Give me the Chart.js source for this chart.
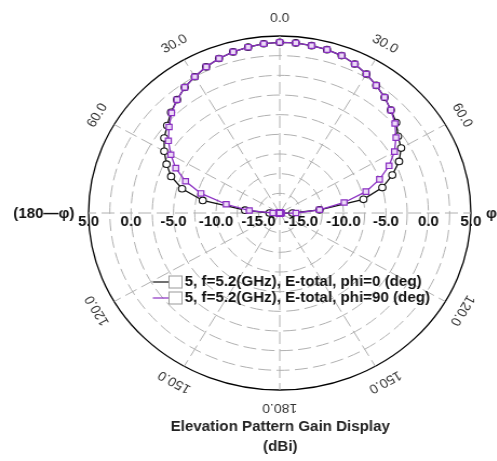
<!DOCTYPE html>
<html lang="en">
<head>
  <meta charset="UTF-8">
  <title>Elevation Pattern Gain Display</title>
  <style>
    html, body { margin: 0; padding: 0; background: #fff; overflow: hidden; }
    #wrap { width: 460px; height: 461px; transform: scaleX(1.08); transform-origin: 0 0; }
  </style>
</head>
<body>
  <div id="wrap"><canvas id="chart" width="460" height="461"></canvas></div>

  <script src="https://cdn.jsdelivr.net/npm/chart.js@4.4.0/dist/chart.umd.min.js"></script>
  <script>
    var FONT = '"Liberation Sans", Arial, sans-serif'

    // theta (deg), clockwise from the top of the plot
    var angles = [0, 5, 10, 15, 20, 25, 30, 35, 40, 45, 50, 55, 60, 65, 70, 75, 80, 85,
      90, 95, 100, 105, 110, 115, 120, 125, 130, 135, 140, 145, 150, 155, 160, 165, 170, 175,
      180, 185, 190, 195, 200, 205, 210, 215, 220, 225, 230, 235, 240, 245, 250, 255, 260, 265,
      270, 275, 280, 285, 290, 295, 300, 305, 310, 315, 320, 325, 330, 335, 340, 345, 350, 355]

    // gain in dBi, phi = 0 deg
    var gainPhi0 = [4.2, 4.2, 4.1, 4.0, 3.8, 3.4, 2.9, 2.3, 1.7, 1.0, 0.4, -0.5, -1.0, -2.0, -3.4, -5.0, -7.5, -12.8,
      -16.0, -17.4, -17.5, -17.5, -17.5, -17.5, -17.5, -17.5, -17.5, -17.5, -17.5, -17.5, -17.5, -17.5, -17.5, -17.5, -17.5, -17.5,
      -17.5, -17.5, -17.5, -17.5, -17.5, -17.5, -17.5, -17.5, -17.5, -17.5, -17.5, -17.5, -17.5, -17.5, -17.5, -17.5, -17.5, -17.5,
      -16.3, -13.4, -8.3, -5.6, -3.9, -2.8, -1.8, -0.9, -0.2, 0.6, 1.3, 2.0, 2.5, 3.0, 3.4, 3.7, 3.9, 4.1]

    // gain in dBi, phi = 90 deg
    var gainPhi90 = [4.2, 4.2, 4.1, 4.0, 3.8, 3.4, 2.9, 2.3, 1.7, 1.0, 0.2, -0.8, -1.9, -3.3, -5.0, -7.0, -9.8, -12.8,
      -15.6, -17.3, -17.5, -17.5, -17.5, -17.5, -17.5, -17.5, -17.5, -17.5, -17.5, -17.5, -17.5, -17.5, -17.5, -17.5, -17.5, -17.5,
      -17.5, -17.5, -17.5, -17.5, -17.5, -17.5, -17.5, -17.5, -17.5, -17.5, -17.5, -17.5, -17.5, -17.5, -17.5, -17.5, -17.5, -17.5,
      -16.7, -13.9, -11.1, -7.9, -5.7, -4.0, -2.7, -1.5, -0.5, 0.5, 1.3, 2.0, 2.5, 3.0, 3.4, 3.7, 3.9, 4.1]

    var seriesNames = ['5, f=5.2(GHz), E-total, phi=0 (deg)', '5, f=5.2(GHz), E-total, phi=90 (deg)']

    // labelled rings and angle labels
    var ringTicks = [5, 0, -5, -10, -15]
    var angleTicks = [0, 30, 60, 90, 120, 150, 180, 210, 240, 270, 300, 330]
    var angleLabels = ['0.0', '30.0', '60.0', '\u03c6', '120.0', '150.0', '180.0', '150.0', '120.0', '(180\u2014\u03c6)', '60.0', '30.0']

    var BLACK = '#111111'
    var PURPLE = '#8a2fc2'

    var polarText = {
      id: 'polarText',
      afterDraw: function (chart) {
        var r = chart.scales.r
        var ctx = chart.ctx
        var cx = r.xCenter, cy = r.yCenter
        ctx.save()
        ctx.textBaseline = 'middle'

        // ring values along the horizontal axis, both halves
        ctx.fillStyle = '#111'
        ctx.font = 'bold 14px ' + FONT
        ctx.textAlign = 'center'
        ringTicks.forEach(function (v) {
          var d = r.getDistanceFromCenterForValue(v)
          ctx.fillText(v.toFixed(1), cx + d, cy + 9)
          ctx.fillText(v.toFixed(1), cx - d, cy + 9)
        })

        // angle labels, turned along the circle
        angleTicks.forEach(function (a, k) {
          var idx = angles.indexOf(a)
          var p
          if (a === 90 || a === 270) {
            ctx.font = 'bold 14px ' + FONT
            ctx.fillStyle = '#111'
            p = r.getPointPosition(idx, r.drawingArea + (a === 90 ? 14 : 13))
            ctx.textAlign = a === 90 ? 'left' : 'right'
            ctx.fillText(angleLabels[k], p.x, cy + 1)
            return
          }
          p = r.getPointPosition(idx, r.drawingArea + 18)
          ctx.save()
          ctx.translate(p.x, p.y)
          ctx.rotate(a * Math.PI / 180)
          ctx.font = '13px ' + FONT
          ctx.fillStyle = '#333'
          ctx.textAlign = 'center'
          ctx.fillText(angleLabels[k], 0, 0)
          ctx.restore()
        })

        // legend inside the plot
        var rows = [282, 298]
        chart.data.datasets.forEach(function (ds, i) {
          var y = rows[i]
          ctx.strokeStyle = ds.borderColor
          ctx.lineWidth = 1.2
          ctx.beginPath()
          ctx.moveTo(141.5, y)
          ctx.lineTo(157, y)
          ctx.stroke()
          ctx.fillStyle = '#fff'
          ctx.fillRect(156.5, y - 6, 12, 12)
          ctx.strokeStyle = '#999'
          ctx.lineWidth = 1
          ctx.strokeRect(156.5, y - 6, 12, 12)
          ctx.fillStyle = '#111'
          ctx.font = 'bold 14px ' + FONT
          ctx.textAlign = 'left'
          ctx.fillText(ds.label, 171, y)
        })
        ctx.restore()
      }
    }

    var ctx = document.getElementById('chart').getContext('2d')
    var chart = new Chart(ctx, {
      type: 'radar',
      data: {
        labels: angles,
        datasets: [{
          label: seriesNames[0],
          data: gainPhi0,
          borderColor: BLACK,
          borderWidth: 1.3,
          backgroundColor: '#ffffff',
          pointStyle: 'circle',
          pointRadius: 3.3,
          pointBorderWidth: 1.1,
          pointBorderColor: BLACK,
          pointBackgroundColor: '#ffffff',
          fill: false,
          order: 2
        }, {
          label: seriesNames[1],
          data: gainPhi90,
          borderColor: PURPLE,
          borderWidth: 1.3,
          backgroundColor: '#eddcf7',
          pointStyle: 'rect',
          pointRadius: 3.8,
          pointBorderWidth: 1.2,
          pointBorderColor: PURPLE,
          pointBackgroundColor: '#eddcf7',
          fill: false,
          order: 1
        }]
      },
      options: {
        responsive: false,
        animation: false,
        events: [],
        layout: { padding: { left: 82, right: 23, top: 36, bottom: 4 } },
        scales: {
          r: {
            min: -17.5,
            max: 5,
            startAngle: 0,
            ticks: { display: false, stepSize: 2.5 },
            pointLabels: { display: false },
            grid: {
              circular: true,
              color: function (c) { return c.index === 9 ? '#000' : '#b0b0b0' },
              lineWidth: function (c) { return c.index === 9 ? 1.3 : 1 }
            },
            border: {
              dash: function (c) { return c.index === 9 ? [] : [12, 5] }
            },
            angleLines: {
              color: function (c) { return c.index % 6 === 0 ? '#b0b0b0' : 'rgba(0,0,0,0)' },
              lineWidth: 1,
              borderDash: [12, 5]
            }
          }
        },
        plugins: {
          legend: { display: false },
          tooltip: { enabled: false },
          title: {
            display: true,
            position: 'bottom',
            text: ['Elevation Pattern Gain Display', '(dBi)'],
            color: '#222',
            font: { family: FONT, size: 14, weight: 'bold', lineHeight: 20 / 14 },
            padding: { top: 26, bottom: 0 }
          }
        }
      },
      plugins: [polarText]
    })
  </script>
</body>
</html>
